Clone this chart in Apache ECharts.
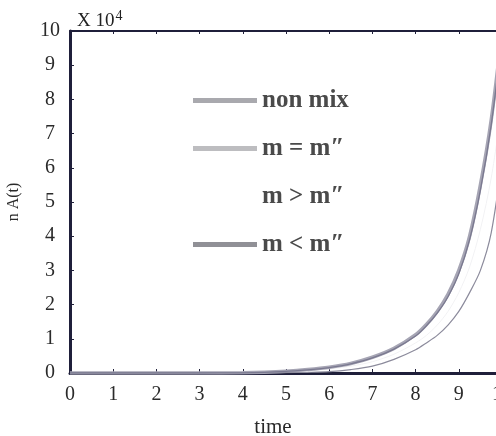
<!DOCTYPE html>
<html>
<head>
<meta charset="utf-8">
<script src="https://cdn.jsdelivr.net/npm/echarts@6/dist/echarts.min.js"></script>
<style>
  html, body { margin: 0; padding: 0; background: #fff; }
  #chart { width: 496px; height: 436px; }
</style>
</head>
<body>
<div id="chart"></div>
<script>
// values (n A(t) in units of 10^4)
var timeValues = [0, 1, 2, 3, 4, 4.5, 5, 5.5, 6, 6.5, 7, 7.5, 8, 8.25, 8.5, 8.75, 9, 9.25, 9.5, 9.75, 10];
var nonMix   = [0, 0, 0, 0, 0.005, 0.02, 0.05, 0.1, 0.17, 0.28, 0.46, 0.72, 1.12, 1.42, 1.8, 2.3, 3.0, 4.0, 5.5, 7.4, 10.0];
var mLess    = [0, 0, 0, 0, 0.005, 0.02, 0.05, 0.09, 0.16, 0.27, 0.44, 0.7, 1.08, 1.38, 1.75, 2.23, 2.9, 3.9, 5.35, 7.25, 9.8];
var mGreater = [0, 0, 0, 0, 0, 0.01, 0.03, 0.07, 0.12, 0.2, 0.33, 0.55, 0.88, 1.1, 1.4, 1.8, 2.35, 3.1, 4.2, 5.7, 7.8];
var mEqual   = [0, 0, 0, 0, 0, 0, 0.01, 0.02, 0.04, 0.1, 0.2, 0.4, 0.68, 0.88, 1.1, 1.4, 1.8, 2.35, 3.0, 4.1, 6.2];
var xTicks = [0, 1, 2, 3, 4, 5, 6, 7, 8, 9, 10];
var seriesNames = ['non mix', 'm = m\u2033', 'm > m\u2033', 'm < m\u2033'];

function pairs(ys) {
  return timeValues.map(function (t, i) { return [t, ys[i]]; });
}

var axisColor = '#1f1f3a';
var serif = '"Liberation Serif", "DejaVu Serif", serif';

var chart = echarts.init(document.getElementById('chart'));
var option = {
  backgroundColor: '#ffffff',
  animation: false,
  title: {
    text: '{a|X 10}{b|4}',
    left: 72,
    top: 4,
    textStyle: {
      fontWeight: 'normal',
      rich: {
        a: { fontFamily: serif, fontSize: 19, fontWeight: 'normal', color: '#222', verticalAlign: 'bottom' },
        b: { fontFamily: serif, fontSize: 14, fontWeight: 'normal', color: '#222', padding: [0, 0, 8, 1] }
      }
    }
  },
  legend: {
    orient: 'vertical',
    left: 193,
    top: 88,
    padding: 0,
    itemWidth: 64,
    itemHeight: 5,
    itemGap: 23,
    icon: 'rect',
    textStyle: { fontFamily: serif, fontSize: 25, fontWeight: 'bold', color: '#4a4a4a', lineHeight: 25 },
    data: [
      { name: seriesNames[0], itemStyle: { color: '#a9a9ae' } },
      { name: seriesNames[1], itemStyle: { color: '#bdbdc0' } },
      { name: seriesNames[2], itemStyle: { color: '#ffffff', opacity: 0 } },
      { name: seriesNames[3], itemStyle: { color: '#909096' } }
    ]
  },
  grid: { left: 70, right: -6, top: 31, bottom: 63, outerBoundsMode: 'none', containLabel: false },
  xAxis: [{
    type: 'value',
    min: 0, max: 10, interval: 1,
    name: 'time',
    nameLocation: 'middle',
    nameGap: 44,
    nameTextStyle: { fontFamily: serif, fontSize: 21, color: '#2a2a2a', padding: [0, 26, 0, 0] },
    axisLine: { lineStyle: { color: axisColor, width: 3 } },
    axisTick: { inside: true, length: 4, lineStyle: { color: axisColor } },
    axisLabel: { fontFamily: serif, fontSize: 20, color: '#2a2a2a', margin: 12, hideOverlap: false,
      formatter: function (v) { return xTicks.indexOf(v) >= 0 ? String(v) : ''; } },
    splitLine: { show: false }
  }, {
    type: 'value',
    position: 'top',
    min: 0, max: 10, interval: 1,
    axisLine: { lineStyle: { color: axisColor, width: 2 } },
    axisTick: { inside: true, length: 3, lineStyle: { color: axisColor } },
    axisLabel: { show: false },
    splitLine: { show: false }
  }],
  yAxis: {
    type: 'value',
    min: 0, max: 10, interval: 1,
    name: 'n A(t)',
    nameLocation: 'middle',
    nameGap: 48,
    nameRotate: 90,
    nameTextStyle: { fontFamily: serif, fontSize: 16, color: '#2a2a2a' },
    axisLine: { lineStyle: { color: axisColor, width: 3 } },
    axisTick: { inside: true, length: 4, lineStyle: { color: axisColor } },
    axisLabel: { fontFamily: serif, fontSize: 20, color: '#2a2a2a', margin: 20, align: 'center' },
    splitLine: { show: false }
  },
  series: [
    { name: seriesNames[0], type: 'line', smooth: 0.3, symbol: 'none', data: pairs(nonMix),
      lineStyle: { color: '#a6a5b4', width: 3.5 }, itemStyle: { color: '#a6a5b4' }, z: 2 },
    { name: seriesNames[1], type: 'line', smooth: 0.3, symbol: 'none', data: pairs(mEqual),
      lineStyle: { color: '#8c8b9c', width: 1.2 }, itemStyle: { color: '#8c8b9c' }, z: 3 },
    { name: seriesNames[2], type: 'line', smooth: 0.3, symbol: 'none', data: pairs(mGreater),
      lineStyle: { color: '#f2f2f4', width: 1 }, itemStyle: { color: '#f2f2f4' }, z: 1 },
    { name: seriesNames[3], type: 'line', smooth: 0.3, symbol: 'none', data: pairs(mLess),
      lineStyle: { color: '#7a7990', width: 1.3 }, itemStyle: { color: '#7a7990' }, z: 4 }
  ]
};
chart.setOption(option);
</script>
</body>
</html>
